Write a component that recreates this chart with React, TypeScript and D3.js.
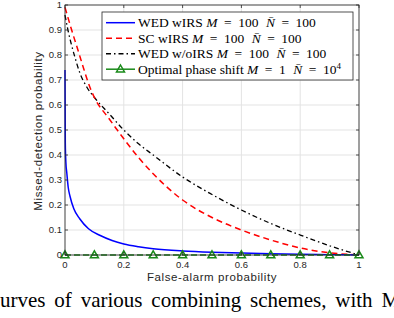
import React from "react";
import * as d3 from "d3";

const xTicks = [0, 0.2, 0.4, 0.6, 0.8, 1];
const yTicks = [0, 0.1, 0.2, 0.3, 0.4, 0.5, 0.6, 0.7, 0.8, 0.9, 1];

const blueX = [0, 0.001, 0.003, 0.006, 0.011, 0.017, 0.03, 0.05, 0.08, 0.12, 0.16, 0.2, 0.25, 0.3, 0.4, 0.5, 0.6, 0.7, 0.8, 0.9, 1];
const blueY = [0.74, 0.45, 0.37, 0.33, 0.27, 0.235, 0.185, 0.145, 0.105, 0.078, 0.058, 0.044, 0.033, 0.025, 0.016, 0.011, 0.008, 0.005, 0.003, 0.0015, 0];

const redX = [0, 0.01, 0.02, 0.044, 0.065, 0.085, 0.1, 0.15, 0.2, 0.25, 0.3, 0.4, 0.5, 0.6, 0.7, 0.8, 0.9, 1];
const redY = [0.99, 0.95, 0.91, 0.82, 0.74, 0.67, 0.63, 0.545, 0.465, 0.39, 0.325, 0.22, 0.15, 0.1, 0.06, 0.028, 0.009, 0];

const blackX = [0, 0.01, 0.02, 0.034, 0.05, 0.075, 0.1, 0.15, 0.2, 0.25, 0.3, 0.4, 0.5, 0.6, 0.7, 0.8, 0.9, 1];
const blackY = [0.96, 0.9, 0.85, 0.79, 0.73, 0.67, 0.63, 0.565, 0.5, 0.445, 0.4, 0.312, 0.242, 0.18, 0.126, 0.08, 0.037, 0];

const greenX = [0, 0.1, 0.2, 0.3, 0.4, 0.5, 0.6, 0.7, 0.8, 0.9, 1];
const greenY = [0, 0, 0, 0, 0, 0, 0, 0, 0, 0, 0];

const seriesLabels = ["WED wIRS ", "SC wIRS ", "WED w/oIRS ", "Optimal phase shift "];
const seriesM = ["100", "100", "100", "1"];
const seriesN = ["100", "100", "100", "10"];

const W = 394, H = 318;
const left = 65, right = 359, top = 5, bottom = 255;

export default function App() {
  const x = d3.scaleLinear().domain([0, 1]).range([left, right]);
  const y = d3.scaleLinear().domain([0, 1]).range([bottom, top]);
  const line = d3.line<[number, number]>().x(d => x(d[0])).y(d => y(d[1])).curve(d3.curveMonotoneX);
  const zip = (a: number[], b: number[]) => a.map((v, i) => [v, b[i]] as [number, number]);
  const axisColor = "#262626";
  const green = "#1a8a1a";
  const tri = (cx: number, cy: number, key: string | number) => (
    <path key={key} d={`M${cx},${cy - 4.2} L${cx + 4},${cy + 2.8} L${cx - 4},${cy + 2.8} Z`} fill="none" stroke={green} strokeWidth={1.5} />
  );
  const styles = [
    { color: "#0000ff", dash: "", marker: false },
    { color: "#ff0000", dash: "6,4", marker: false },
    { color: "#000000", dash: "5,3,1.5,3", marker: false },
    { color: green, dash: "", marker: true },
  ];
  const lx = 102, ly = 12, lw = 251, lh = 68;
  const g = 6.5;
  const sans = "Liberation Sans, Arial, sans-serif";
  const serif = "Liberation Serif, Times New Roman, serif";
  return (
    <svg width={W} height={H} style={{ position: "absolute", left: 0, top: 0, background: "#fff" }}>
      <rect x={0} y={0} width={W} height={H} fill="#fff" />
      {xTicks.map(t => <line key={"gx" + t} x1={x(t)} x2={x(t)} y1={top} y2={bottom} stroke="#e3e3e3" strokeWidth={1} />)}
      {yTicks.map(t => <line key={"gy" + t} x1={left} x2={right} y1={y(t)} y2={y(t)} stroke="#e3e3e3" strokeWidth={1} />)}
      <path d={line(zip(blackX, blackY)) || ""} fill="none" stroke="#000" strokeWidth={1.3} strokeDasharray="5,3,1.5,3" />
      <path d={line(zip(redX, redY)) || ""} fill="none" stroke="#ff0000" strokeWidth={1.5} strokeDasharray="6,4" />
      <path d={line(zip(blueX, blueY)) || ""} fill="none" stroke="#0000ff" strokeWidth={1.5} />
      <path d={line(zip(greenX, greenY)) || ""} fill="none" stroke={green} strokeWidth={1.6} strokeDasharray="6,3" />
      {greenX.map((v, i) => tri(x(v), y(greenY[i]), "t" + i))}
      <rect x={left} y={top} width={right - left} height={bottom - top} fill="none" stroke={axisColor} strokeWidth={0.8} />
      {xTicks.map(t => <g key={"tx" + t}>
        <line x1={x(t)} x2={x(t)} y1={bottom} y2={bottom - 3} stroke={axisColor} strokeWidth={0.8} />
        <line x1={x(t)} x2={x(t)} y1={top} y2={top + 3} stroke={axisColor} strokeWidth={0.8} />
        <text x={x(t)} y={bottom + 13} textAnchor="middle" fontFamily={sans} fontSize={9.5} fill={axisColor}>{String(t)}</text>
      </g>)}
      {yTicks.map(t => <g key={"ty" + t}>
        <line x1={left} x2={left + 3} y1={y(t)} y2={y(t)} stroke={axisColor} strokeWidth={0.8} />
        <line x1={right} x2={right - 3} y1={y(t)} y2={y(t)} stroke={axisColor} strokeWidth={0.8} />
        <text x={left - 3} y={y(t) + 3.3} textAnchor="end" fontFamily={sans} fontSize={9.5} fill={axisColor}>{String(t)}</text>
      </g>)}
      <text x={x(0.5)} y={281} textAnchor="middle" fontFamily={sans} fontSize={11.5} letterSpacing={0.6} fill={axisColor}>False-alarm probability</text>
      <text transform={`translate(42,131) rotate(-90)`} textAnchor="middle" fontFamily={sans} fontSize={11.5} letterSpacing={0.6} fill={axisColor}>Missed-detection probability</text>
      <rect x={lx} y={ly} width={lw} height={lh} fill="#fff" stroke="#262626" strokeWidth={0.8} />
      {seriesLabels.map((lab, i) => {
        const cy = 22.7 + i * 15.5;
        const s = styles[i];
        return <g key={"lg" + i}>
          <line x1={106} x2={135} y1={cy} y2={cy} stroke={s.color} strokeWidth={1.5} strokeDasharray={s.dash} />
          {s.marker && tri(120.5, cy, "lt")}
          <text x={138} y={cy + 4.5} fontFamily={serif} fontSize={13.5} fill="#000">
            {lab}
            <tspan fontStyle="italic">M</tspan>
            <tspan dx={g}>=</tspan>
            <tspan dx={g}>{seriesM[i]}</tspan>
            <tspan dx={g + 1} fontStyle="italic">{"N\u0304"}</tspan>
            <tspan dx={g}>=</tspan>
            <tspan dx={g}>{seriesN[i]}</tspan>
            {s.marker && <tspan dy={-5} fontSize={9}>4</tspan>}
          </text>
        </g>;
      })}
      <text x={-14} y={307} fontFamily={serif} fontSize={21} fill="#000" wordSpacing={3.6}>Curves of various combining schemes, with M</text>
    </svg>
  );
}
